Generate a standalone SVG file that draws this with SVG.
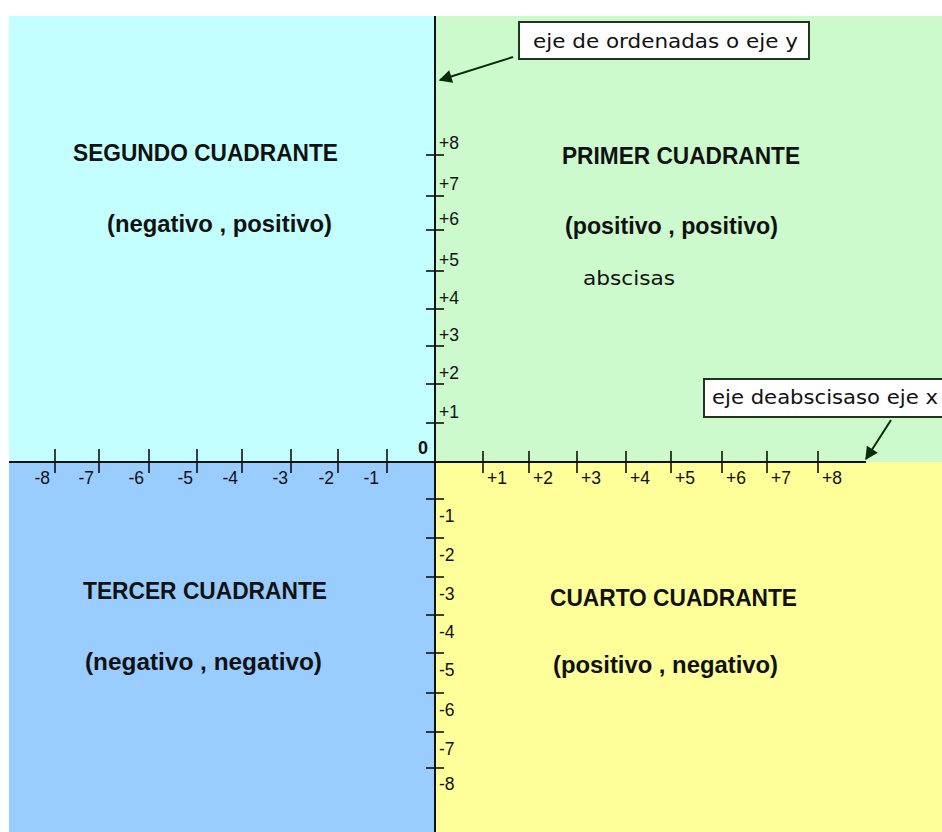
<svg xmlns="http://www.w3.org/2000/svg" width="942" height="832" viewBox="0 0 942 832">
<style>
.q{font-family:"Liberation Sans",Arial,sans-serif;font-weight:bold;font-size:23px;fill:#111}
.t{font-family:"Liberation Sans",Arial,sans-serif;font-size:17.5px;fill:#111}
.n{font-family:"DejaVu Sans","Liberation Sans",sans-serif;font-size:20px;fill:#111}
.ax{stroke:#111;stroke-width:2;fill:none}
.tk{stroke:#111;stroke-width:1.6}
.box{fill:#fff;stroke:#223322;stroke-width:2}
.ar{stroke:#0a2a0a;stroke-width:2;fill:none}
</style>
<defs>
<marker id="ah" viewBox="0 0 10 10" refX="9" refY="5" markerWidth="15" markerHeight="13" orient="auto" markerUnits="userSpaceOnUse">
<path d="M0,0 L10,5 L0,10 z" fill="#0a2a0a"/>
</marker>
</defs>
<rect width="942" height="832" fill="#fff"/>
<g id="quadrants">
<rect x="9" y="16" width="426" height="446" fill="#C4FFFF"/>
<rect x="435" y="16" width="507" height="446" fill="#CCFACC"/>
<rect x="9" y="462" width="426" height="370" fill="#99CCFF"/>
<rect x="435" y="462" width="507" height="370" fill="#FFFF99"/>
</g>
<g id="axes">
<line class="ax" x1="435" y1="16" x2="435" y2="832"/>
<line class="ax" x1="9" y1="462" x2="866" y2="462"/>
</g>
<g id="x-ticks">
<line class="tk" x1="55" y1="449" x2="55" y2="473"/>
<line class="tk" x1="99" y1="449" x2="99" y2="473"/>
<line class="tk" x1="149" y1="449" x2="149" y2="473"/>
<line class="tk" x1="197" y1="449" x2="197" y2="473"/>
<line class="tk" x1="242" y1="449" x2="242" y2="473"/>
<line class="tk" x1="291" y1="449" x2="291" y2="473"/>
<line class="tk" x1="338" y1="449" x2="338" y2="473"/>
<line class="tk" x1="387" y1="449" x2="387" y2="473"/>
<line class="tk" x1="483" y1="451" x2="483" y2="473"/>
<line class="tk" x1="529" y1="451" x2="529" y2="473"/>
<line class="tk" x1="577" y1="451" x2="577" y2="473"/>
<line class="tk" x1="626" y1="451" x2="626" y2="473"/>
<line class="tk" x1="671" y1="451" x2="671" y2="473"/>
<line class="tk" x1="722" y1="451" x2="722" y2="473"/>
<line class="tk" x1="767" y1="451" x2="767" y2="473"/>
<line class="tk" x1="818" y1="451" x2="818" y2="473"/>
</g>
<g id="x-labels" class="t">
<text x="50" y="484" text-anchor="end">-8</text>
<text x="94" y="484" text-anchor="end">-7</text>
<text x="144" y="484" text-anchor="end">-6</text>
<text x="193" y="484" text-anchor="end">-5</text>
<text x="238" y="484" text-anchor="end">-4</text>
<text x="288" y="484" text-anchor="end">-3</text>
<text x="334" y="484" text-anchor="end">-2</text>
<text x="379" y="484" text-anchor="end">-1</text>
<text x="487" y="484">+1</text>
<text x="533" y="484">+2</text>
<text x="581" y="484">+3</text>
<text x="630" y="484">+4</text>
<text x="675" y="484">+5</text>
<text x="726" y="484">+6</text>
<text x="771" y="484">+7</text>
<text x="822" y="484">+8</text>
</g>
<g id="y-ticks">
<line class="tk" x1="426" y1="155" x2="444" y2="155"/>
<line class="tk" x1="426" y1="196" x2="444" y2="196"/>
<line class="tk" x1="426" y1="230" x2="444" y2="230"/>
<line class="tk" x1="426" y1="271" x2="444" y2="271"/>
<line class="tk" x1="426" y1="309" x2="444" y2="309"/>
<line class="tk" x1="426" y1="346" x2="444" y2="346"/>
<line class="tk" x1="426" y1="384" x2="444" y2="384"/>
<line class="tk" x1="426" y1="423" x2="444" y2="423"/>
<line class="tk" x1="426" y1="499" x2="444" y2="499"/>
<line class="tk" x1="426" y1="538" x2="444" y2="538"/>
<line class="tk" x1="426" y1="577" x2="444" y2="577"/>
<line class="tk" x1="426" y1="615" x2="444" y2="615"/>
<line class="tk" x1="426" y1="653" x2="444" y2="653"/>
<line class="tk" x1="426" y1="693" x2="444" y2="693"/>
<line class="tk" x1="426" y1="732" x2="444" y2="732"/>
<line class="tk" x1="426" y1="768" x2="444" y2="768"/>
</g>
<g id="y-labels" class="t">
<text x="439" y="149">+8</text>
<text x="439" y="190">+7</text>
<text x="439" y="225">+6</text>
<text x="439" y="266">+5</text>
<text x="439" y="304">+4</text>
<text x="439" y="341">+3</text>
<text x="439" y="379">+2</text>
<text x="439" y="418">+1</text>
<text x="439" y="522">-1</text>
<text x="439" y="561">-2</text>
<text x="439" y="600">-3</text>
<text x="439" y="638">-4</text>
<text x="439" y="676">-5</text>
<text x="439" y="716">-6</text>
<text x="439" y="755">-7</text>
<text x="439" y="790">-8</text>
</g>
<g id="origin">
<text x="418" y="454" style="font-family:'Liberation Sans',Arial,sans-serif;font-weight:bold;font-size:18px;fill:#111">0</text>
</g>
<g id="segundo">
<text class="q" x="73" y="161" textLength="265" lengthAdjust="spacingAndGlyphs">SEGUNDO CUADRANTE</text>
<text class="q" x="107" y="232" textLength="225" lengthAdjust="spacingAndGlyphs">(negativo , positivo)</text>
</g>
<g id="primer">
<text class="q" x="562" y="164" textLength="238" lengthAdjust="spacingAndGlyphs">PRIMER CUADRANTE</text>
<text class="q" x="565" y="234" textLength="213" lengthAdjust="spacingAndGlyphs">(positivo , positivo)</text>
<text class="n" x="583" y="285" textLength="92" lengthAdjust="spacingAndGlyphs">abscisas</text>
</g>
<g id="tercer">
<text class="q" x="83" y="599" textLength="244" lengthAdjust="spacingAndGlyphs">TERCER CUADRANTE</text>
<text class="q" x="85" y="670" textLength="237" lengthAdjust="spacingAndGlyphs">(negativo , negativo)</text>
</g>
<g id="cuarto">
<text class="q" x="550" y="606" textLength="247" lengthAdjust="spacingAndGlyphs">CUARTO CUADRANTE</text>
<text class="q" x="553" y="673" textLength="225" lengthAdjust="spacingAndGlyphs">(positivo , negativo)</text>
</g>
<g id="label-y">
<rect class="box" x="519" y="22" width="290" height="37"/>
<text class="n" x="533" y="48" textLength="265" lengthAdjust="spacingAndGlyphs">eje de ordenadas o eje y</text>
</g>
<g id="label-x">
<rect class="box" x="704" y="379" width="245" height="38"/>
<text class="n" x="712" y="404" textLength="226" lengthAdjust="spacingAndGlyphs">eje deabscisaso eje x</text>
</g>
<g id="connectors">
<line class="ar" x1="513" y1="57" x2="440" y2="80" marker-end="url(#ah)"/>
<line class="ar" x1="891" y1="420" x2="866" y2="459" marker-end="url(#ah)"/>
</g>
</svg>
